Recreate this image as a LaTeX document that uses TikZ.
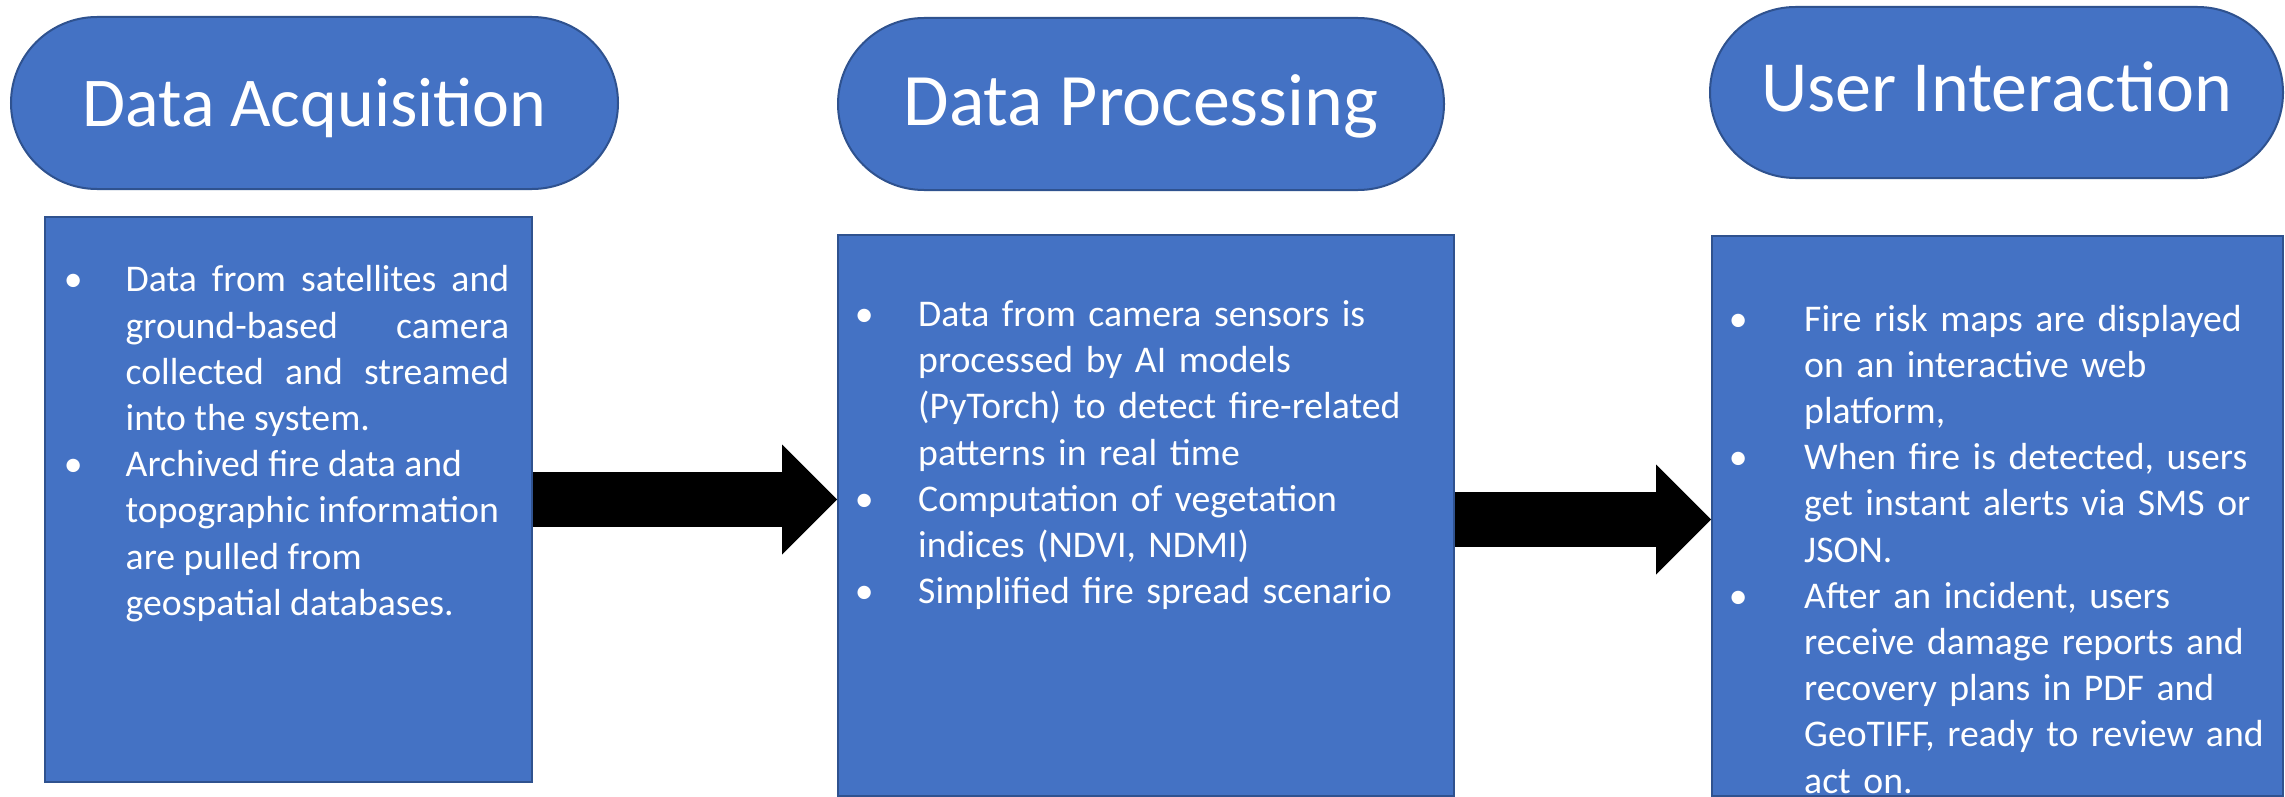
\documentclass[tikz,border=0pt]{standalone}
\usepackage{fontspec}
\setmainfont{Carlito}
\usetikzlibrary{arrows.meta}
\definecolor{boxblue}{HTML}{4472C4}
\definecolor{boxedge}{HTML}{2F528F}
\newcommand{\bitem}[2]{\hangindent=#1\hangafter=1\makebox[#1][l]{\makebox[0pt]{\textbullet}}#2\par}
\tikzset{
  term/.style={draw=boxedge, fill=boxblue, line width=2pt, text=white, inner sep=0pt, text depth=0pt},
  panel/.style={draw=boxedge, fill=boxblue, line width=2pt, inner sep=0pt},
  bodytext/.style={text=white, inner sep=0pt, anchor=base west, font=\fontsize{37.7}{46.2}\selectfont},
  flow/.style={line width=55pt, -{Triangle[length=55pt,width=110pt,line width=0pt]}},
}
\begin{document}
\begin{tikzpicture}[x=1pt, y=-1pt]
\fill[white] (0,0) rectangle (2285,797);
\useasboundingbox (0,0) rectangle (2285,797);

% title terminators
\node[term, rounded corners=86pt, minimum width=607pt, minimum height=172pt, text height=48pt,
      font=\fontsize{70}{84}\selectfont] (acq) at (314.5,103) {Data Acquisition};
\node[term, rounded corners=86pt, minimum width=606pt, minimum height=172pt, text height=42pt,
      font=\fontsize{74}{88}\selectfont] (proc) at (1141,104) {Data Processing};
\node[term, rounded corners=85.5pt, minimum width=573pt, minimum height=171pt, text height=39pt,
      font=\fontsize{72}{86}\selectfont] (user) at (1996.5,92.5) {User Interaction};

% content panels
\node[panel, minimum width=487pt, minimum height=565pt] (acqbox) at (288.5,499.5) {};
\node[panel, minimum width=616pt, minimum height=561pt] (procbox) at (1146,515.5) {};
\node[panel, minimum width=571pt, minimum height=560pt] (userbox) at (1997.5,516) {};

% panel texts
\node[bodytext, text width=436pt, align=justify] (acqtext) at (73,291.8) {%
\bitem{52.5pt}{Data from satellites and\linebreak ground-based camera\linebreak collected and streamed\linebreak into the system.}%
\bitem{52.5pt}{Archived fire data and\newline topographic information\newline are pulled from\newline geospatial databases.}};

\node[bodytext, text width=560pt, align=left] (proctext) at (864,326.5) {%
\bitem{54pt}{Data from camera sensors is\newline processed by AI models\newline (PyTorch) to detect fire-related\newline patterns in real time}%
\bitem{54pt}{Computation of vegetation\newline indices (NDVI, NDMI)}%
\bitem{54pt}{Simplified fire spread scenario}};

\node[bodytext, text width=540pt, align=left] (usertext) at (1738,331) {%
\bitem{66pt}{Fire risk maps are displayed\newline on an interactive web\newline platform,}%
\bitem{66pt}{When fire is detected, users\newline get instant alerts via SMS or\newline JSON.}%
\bitem{66pt}{After an incident, users\newline receive damage reports and\newline recovery plans in PDF and\newline GeoTIFF, ready to review and\newline act on.}};

% block arrows
\draw[flow] (acqbox.east) -- (acqbox.east -| procbox.west);
\draw[flow] ([yshift=-4pt]procbox.east) -- ([yshift=-4pt]procbox.east -| userbox.west);
\end{tikzpicture}
\end{document}
